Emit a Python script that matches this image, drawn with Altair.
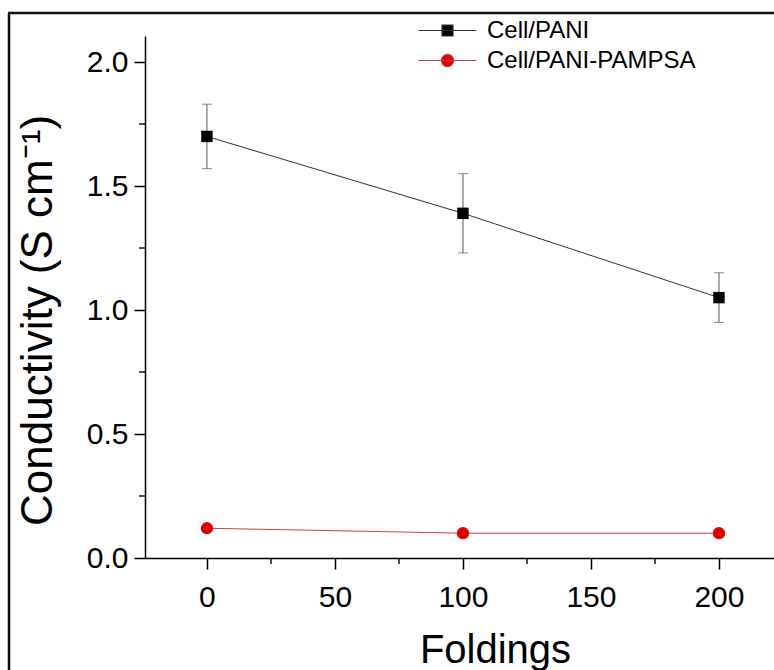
import altair as alt
import pandas as pd

# ---- data ----
foldings = [0, 100, 200]
pani = [1.70, 1.39, 1.05]
pani_err = [0.13, 0.16, 0.10]
pampsa = [0.12, 0.10, 0.10]
series_names = ["Cell/PANI", "Cell/PANI-PAMPSA"]
y_ticks = [0.0, 0.5, 1.0, 1.5, 2.0]
y_minor = [0.25, 0.75, 1.25, 1.75]
x_ticks = [0, 50, 100, 150, 200]
x_minor = [25, 75, 125, 175]

W, H = 629, 522
FONT = "Liberation Sans"

pani_df = pd.DataFrame({
    "Foldings": foldings,
    "value": pani,
    "lo": [v - e for v, e in zip(pani, pani_err)],
    "hi": [v + e for v, e in zip(pani, pani_err)],
})
pampsa_df = pd.DataFrame({"Foldings": foldings, "value": pampsa})
legend_df = pd.DataFrame({
    "Foldings": foldings + foldings,
    "value": pani + pampsa,
    "series": [series_names[0]] * 3 + [series_names[1]] * 3,
})

xscale = alt.Scale(domain=[-24.2, 221.5], nice=False, zero=False)
yscale = alt.Scale(domain=[0, 2.105], nice=False, zero=False)

xaxis = alt.Axis(values=x_ticks, title="Foldings", titleX=350, titleY=92,
                 titleAlign="center", titleBaseline="middle", labelPadding=13,
                 titleFontSize=40)
yaxis = alt.Axis(values=y_ticks, format=".1f", title="Conductivity (S cm⁻¹)",
                 titleX=-107, titleY=284, titleAlign="center", titleBaseline="middle",
                 titleAngle=270, labelPadding=6, titleFontSize=44)

def X(f):
    return alt.X(f, type="quantitative", scale=xscale, axis=xaxis)

def Y(f):
    return alt.Y(f, type="quantitative", scale=yscale, axis=yaxis)

pani_base = alt.Chart(pani_df)
err = pani_base.mark_rule(color="#555555", strokeWidth=1).encode(x=X("Foldings"), y=Y("lo"), y2="hi")
cap_hi = pani_base.mark_tick(orient="horizontal", size=10, thickness=1, color="#555555").encode(x=X("Foldings"), y=Y("hi"))
cap_lo = pani_base.mark_tick(orient="horizontal", size=10, thickness=1, color="#555555").encode(x=X("Foldings"), y=Y("lo"))
pani_line = pani_base.mark_line(color="#333333", strokeWidth=1).encode(x=X("Foldings"), y=Y("value"))
pani_pts = pani_base.mark_point(shape="square", filled=True, size=130, color="#000000", opacity=1).encode(x=X("Foldings"), y=Y("value"))

pampsa_base = alt.Chart(pampsa_df)
pampsa_line = pampsa_base.mark_line(color="#c04040", strokeWidth=1).encode(x=X("Foldings"), y=Y("value"))
pampsa_pts = pampsa_base.mark_point(shape="circle", filled=True, size=150, color="#e00000", opacity=1).encode(x=X("Foldings"), y=Y("value"))

ymin = alt.Chart(pd.DataFrame({"m": y_minor})).mark_rule(color="black", strokeWidth=1.4).encode(
    y=Y("m"), x=alt.value(-6), x2=alt.value(0))
xmin = alt.Chart(pd.DataFrame({"m": x_minor})).mark_rule(color="black", strokeWidth=1.4).encode(
    x=X("m"), y=alt.value(H), y2=alt.value(H + 6))

frame_left = alt.Chart(pd.DataFrame({"a": [0]})).mark_rule(color="#111111", strokeWidth=2.5).encode(
    x=alt.value(-136), y=alt.value(-23), y2=alt.value(H + 200))
frame_top = alt.Chart(pd.DataFrame({"a": [0]})).mark_rule(color="#111111", strokeWidth=2.5).encode(
    y=alt.value(-23), x=alt.value(-137), x2=alt.value(W + 50))

# legend symbols: line segment with marker in the middle (path spans twice the nominal box)
sq_path = "M-2,0H2M-0.38,-0.38H0.38V0.38H-0.38Z"
circ_path = "M-2,0H2M-0.42,0A0.42,0.42,0,1,0,0.42,0A0.42,0.42,0,1,0,-0.42,0Z"

leg = alt.Legend(orient="none", legendX=287, legendY=-21, title=None, padding=0,
                 symbolSize=841, labelFont=FONT, labelFontSize=24, labelColor="black",
                 labelOffset=24, rowPadding=2, symbolStrokeWidth=1.2, labelLimit=500)

legend_layer = alt.Chart(legend_df).transform_filter("datum.value < -1").mark_point(
    filled=True, opacity=1, strokeWidth=1.2).encode(
    x=X("Foldings"), y=Y("value"),
    fill=alt.Fill("series:N", scale=alt.Scale(domain=series_names, range=["#000000", "#e00000"]), legend=leg),
    stroke=alt.Stroke("series:N", scale=alt.Scale(domain=series_names, range=["#333333", "#c04040"]), legend=leg),
    shape=alt.Shape("series:N", scale=alt.Scale(domain=series_names, range=[sq_path, circ_path]), legend=leg),
)

chart = alt.layer(
    frame_left, frame_top, ymin, xmin, err, cap_hi, cap_lo,
    pani_line, pampsa_line, pani_pts, pampsa_pts, legend_layer
).properties(
    width=W, height=H,
    background="white",
    autosize=alt.AutoSizeParams(type="none"),
    padding={"left": 145, "top": 36, "right": 0, "bottom": 112},
).configure_view(stroke=None).configure_axis(
    grid=False, domainColor="black", domainWidth=1.5, tickColor="black", tickWidth=1.5,
    tickSize=11, labelFont=FONT, labelFontSize=30, labelColor="black",
    titleFont=FONT, titleFontWeight="normal", titleColor="black",
)

chart.save("out.html", embed_options={"renderer": "svg", "actions": False})
